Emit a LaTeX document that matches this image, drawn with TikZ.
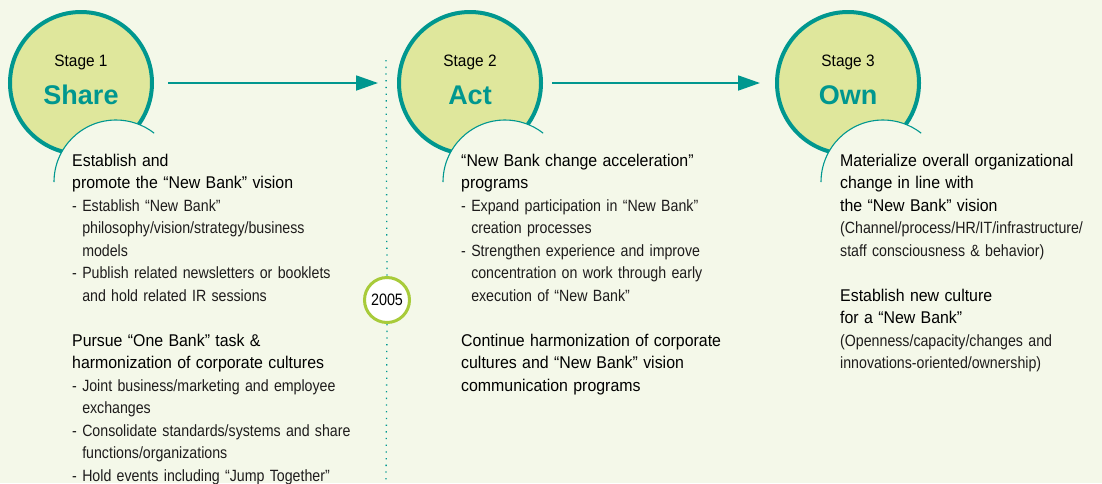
\documentclass[tikz,border=0pt]{standalone}
\usepackage{fontspec}
\setmainfont{Liberation Sans}
\newfontfamily\headf{Liberation Sans}[FakeStretch=0.935]
\newfontfamily\listf{Liberation Sans}[FakeStretch=0.87]
\usetikzlibrary{arrows.meta}
\definecolor{bgc}{RGB}{244,248,233}
\definecolor{circfill}{RGB}{223,231,156}
\definecolor{tealc}{RGB}{0,151,143}
\definecolor{ringc}{RGB}{168,203,58}
\definecolor{txtc}{RGB}{30,28,28}
\newcommand\hd{\fontsize{17}{22.5}\headf\color{black}}
\newcommand\lf{\fontsize{16.3}{22.5}\listf\color{txtc}}
\newcommand\ind{\hphantom{-\ }}
\tikzset{
  stagecirc/.style={circle, draw=tealc, line width=4pt, fill=circfill, minimum size=142pt, inner sep=0pt},
  arcline/.style={draw=tealc, line width=1.1pt},
  stagelbl/.style={anchor=base, inner sep=0pt, font=\fontsize{16.5}{20}\headf},
  stagename/.style={anchor=base, inner sep=0pt, text=tealc, font=\fontsize{27}{30}\bfseries},
  bodytext/.style={anchor=north west, inner sep=0pt, text width=340pt, align=left, font=\fontsize{16}{22.5}\selectfont},
  arr/.style={draw=tealc, line width=1.8pt, -{Triangle[length=22pt,width=15pt]}},
  dotline/.style={draw=tealc, line width=1.3pt, dash pattern=on 1.3pt off 5.4pt},
  yearnode/.style={circle, draw=ringc, line width=3pt, fill=white, minimum size=45pt, inner sep=0pt, font=\fontsize{16.5}{18}\listf}
}
\begin{document}
\begin{tikzpicture}[x=1pt,y=-1pt]
\useasboundingbox (0,0) rectangle (1102,483);
\fill[bgc] (0,0) rectangle (1102,483);

% dotted divider and year
\coordinate (dtop) at (386,60);
\coordinate (dbot) at (386,483);
\node[yearnode] (yr) at (387,300) {2005};
\draw[dotline] (dtop) -- (yr.north) (yr.south) -- (dbot);

% stage circles
\node[stagecirc] (c1) at (81,83) {};
\node[stagecirc] (c2) at (470,83) {};
\node[stagecirc] (c3) at (848,83) {};

% covering circles with arcs
\fill[bgc] (116,182) circle[radius=62pt];
\draw[arcline] (54,182) arc[start angle=180,end angle=52,radius=62pt];
\fill[bgc] (505,182) circle[radius=62pt];
\draw[arcline] (443,182) arc[start angle=180,end angle=52,radius=62pt];
\fill[bgc] (883,182) circle[radius=62pt];
\draw[arcline] (821,182) arc[start angle=180,end angle=52,radius=62pt];

% labels
\node[stagelbl] (l1) at (81,66) {Stage 1};
\node[stagename] (n1) at (81,104) {Share};
\node[stagelbl] (l2) at (470,66) {Stage 2};
\node[stagename] (n2) at (470,104) {Act};
\node[stagelbl] (l3) at (848,66) {Stage 3};
\node[stagename] (n3) at (848,104) {Own};

% arrows
\draw[arr, shorten <=14pt, shorten >=19pt] (c1.east) -- (c2.west);
\draw[arr, shorten <=9pt, shorten >=15pt] (c2.east) -- (c3.west);

% body texts
\node[bodytext] (t1) at (72,150.25) {%
{\hd\strut Establish and\\promote the “New Bank” vision}\\
{\lf - Establish “New Bank”\\\ind philosophy/vision/strategy/business\\\ind models\\- Publish related newsletters or booklets\\\ind and hold related IR sessions}\\[22.5pt]
{\hd Pursue “One Bank” task \&\\harmonization of corporate cultures}\\
{\lf - Joint business/marketing and employee\\\ind exchanges\\- Consolidate standards/systems and share\\\ind functions/organizations\\- Hold events including “Jump Together”}};

\node[bodytext] (t2) at (461,150.25) {%
{\hd\strut “New Bank change acceleration”\\programs}\\
{\lf - Expand participation in “New Bank”\\\ind creation processes\\- Strengthen experience and improve\\\ind concentration on work through early\\\ind execution of “New Bank”}\\[22.5pt]
{\hd Continue harmonization of corporate\\cultures and “New Bank” vision\\communication programs}};

\node[bodytext] (t3) at (840,150.25) {%
{\hd\strut Materialize overall organizational\\change in line with\\the “New Bank” vision}\\
{\lf (Channel/process/HR/IT/infrastructure/\\staff consciousness \& behavior)}\\[22.5pt]
{\hd Establish new culture\\for a “New Bank”}\\
{\lf (Openness/capacity/changes and\\innovations-oriented/ownership)}};
\end{tikzpicture}
\end{document}
